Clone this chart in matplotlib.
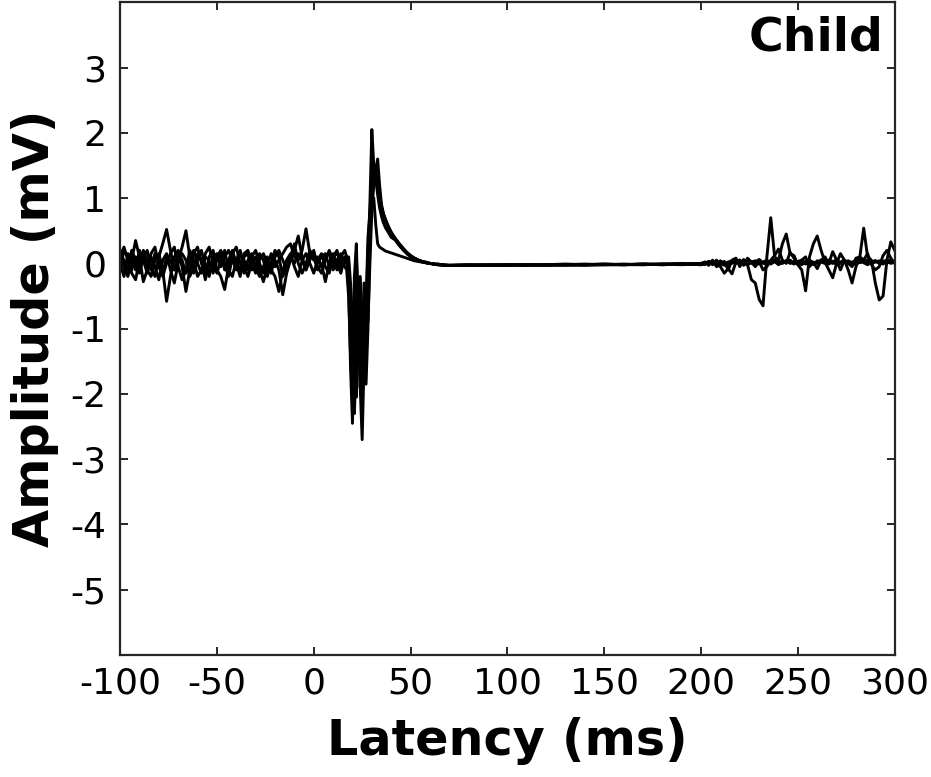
import numpy as np
import matplotlib
matplotlib.use('Agg')
import matplotlib.pyplot as plt

# sampling grid (ms): dense where the traces move, sparse on the flat part
t_pre = np.arange(-100, 17, 2)
t_mep = np.arange(17, 41, 1)
t_tail = np.arange(42, 71, 2)
t_flat = np.arange(80, 191, 10)
t_late = np.arange(200, 301, 2)
time = np.concatenate([t_pre, t_mep, t_tail, t_flat, t_late])

trace_a = [0.15, 0.05, -0.1, 0.2, 0.05, -0.15, 0.1, 0.2, -0.05, -0.2,
           0.1, 0.3, 0.52, 0.2, -0.1, 0.05, 0.25, 0.5, 0.1, -0.15,
           0.05, 0.2, -0.05, -0.2, 0.1, 0.15, -0.05, 0.1, 0.2, 0.05,
           -0.1, 0.15, 0.05, -0.1, 0.1, 0.2, 0.0, -0.15, 0.05, 0.1,
           -0.05, 0.05, 0.15, 0.25, 0.3, 0.1, 0.05, 0.2, 0.53, 0.15,
           0.05, 0.1, -0.05, 0.1, 0.15, -0.1, 0.05, 0.15, 0.0,
           0.1, -0.3, -1.6, -2.45, -1.2, 0.1, -0.6, -1.9, -1.4, -0.3,
           -0.9, -0.2, 0.9, 2.05, 1.5, 1.3, 1.05, 0.85, 0.72, 0.62,
           0.55, 0.5, 0.45, 0.4,
           0.36, 0.28, 0.21, 0.15, 0.1, 0.07, 0.04, 0.02, 0.01, 0.0,
           -0.01, -0.02, -0.02, -0.03, -0.03,
           -0.03, -0.03, -0.02, -0.03, -0.02, -0.02, -0.03, -0.02, -0.02, -0.01,
           -0.02, -0.01,
           0.0, 0.02, -0.03, 0.05, -0.05, -0.02, 0.03, -0.1, 0.05, 0.08,
           -0.05, 0.06, -0.02, -0.25, -0.3, -0.55, -0.65, 0.1, 0.7, 0.1,
           0.05, 0.3, 0.45, 0.15, 0.12, -0.02, -0.1, -0.42, 0.1, 0.3,
           0.42, 0.2, 0.02, -0.1, -0.22, 0.0, 0.15, 0.05, -0.1, -0.3,
           -0.05, 0.1, 0.54, 0.1, 0.05, -0.3, -0.56, -0.5, 0.05, 0.33,
           0.2]

trace_b = [-0.1, 0.2, 0.1, -0.15, -0.25, 0.05, 0.15, -0.1, -0.2, 0.05,
           0.15, -0.1, -0.58, -0.2, 0.1, 0.2, -0.05, -0.43, -0.1, 0.15,
           0.25, 0.0, -0.15, 0.1, 0.2, -0.1, -0.2, -0.4, -0.05, 0.15,
           0.25, 0.0, -0.15, 0.05, 0.15, -0.05, -0.2, -0.05, 0.1, -0.1,
           -0.2, -0.43, -0.1, 0.05, 0.15, -0.05, -0.2, 0.05, 0.15, 0.0,
           -0.15, 0.05, 0.15, -0.05, -0.15, 0.1, 0.2, -0.05, 0.05,
           0.05, 0.0, -0.8, -1.5, -0.2, 0.3, -0.8, -1.9, -2.7, -1.5,
           -0.4, -0.9, 0.0, 0.8, 1.2, 1.45, 1.6, 1.2, 0.9, 0.76,
           0.67, 0.6, 0.53, 0.47,
           0.38, 0.3, 0.23, 0.17, 0.12, 0.08, 0.05, 0.03, 0.01, 0.0,
           -0.01, -0.02, -0.02, -0.03, -0.03,
           -0.02, -0.03, -0.03, -0.02, -0.03, -0.02, -0.02, -0.01, -0.02, -0.02,
           -0.01, -0.01,
           -0.02, 0.0, 0.03, -0.02, 0.05, -0.05, -0.15, -0.08, -0.16, 0.02,
           0.05, -0.03, 0.08, 0.02, -0.05, 0.03, -0.1, -0.05, 0.05, 0.12,
           0.22, 0.05, 0.0, 0.17, 0.08, -0.02, 0.05, 0.1, -0.05, 0.02,
           -0.08, 0.05, 0.1, 0.0, 0.18, 0.05, -0.1, 0.05, 0.0, -0.05,
           0.08, 0.1, 0.05, 0.15, -0.02, -0.1, -0.05, 0.12, 0.2, 0.08,
           0.0]

trace_c = [0.2, -0.05, -0.2, 0.05, 0.35, 0.1, -0.28, -0.1, 0.15, 0.25,
           -0.05, -0.2, 0.0, 0.15, 0.25, -0.05, -0.25, -0.1, 0.2, 0.05,
           -0.2, -0.1, 0.15, 0.25, 0.0, -0.15, 0.05, 0.2, -0.1, -0.2,
           0.05, 0.2, -0.05, -0.2, 0.0, 0.1, -0.1, -0.28, -0.05, 0.15,
           0.05, -0.1, -0.48, -0.15, 0.05, 0.2, 0.42, 0.1, -0.1, 0.05,
           0.2, -0.05, -0.15, 0.05, 0.2, 0.05, -0.1, 0.1, 0.2,
           0.1, -0.2, -0.5, -1.2, -1.8, -2.05, -1.0, -0.2, -0.9, -1.6,
           -0.8, 0.2, 0.75, 0.95, 1.0, 0.6, 0.3, 0.25, 0.23, 0.21,
           0.19, 0.18, 0.17, 0.16,
           0.14, 0.12, 0.1, 0.08, 0.06, 0.04, 0.03, 0.02, 0.01, 0.0,
           -0.01, -0.01, -0.02, -0.02, -0.03,
           -0.03, -0.02, -0.02, -0.03, -0.02, -0.01, -0.02, -0.02, -0.01, -0.02,
           -0.01, 0.0,
           -0.02, 0.0, 0.02, -0.01, 0.03, 0.0, -0.03, 0.02, 0.04, 0.0,
           0.03, -0.02, 0.05, 0.0, 0.02, 0.06, 0.01, -0.02, 0.03, 0.05,
           0.02, 0.0, 0.04, 0.02, -0.01, 0.03, 0.05, 0.0, 0.02, -0.02,
           0.04, 0.02, 0.0, 0.05, 0.03, -0.02, 0.01, 0.04, 0.02, 0.0,
           0.03, 0.05, 0.01, -0.02, 0.02, 0.04, 0.0, 0.03, 0.05, 0.02,
           0.01]

trace_d = [0.0, -0.2, 0.15, 0.1, -0.1, 0.2, 0.05, -0.15, 0.1, -0.05,
           -0.25, 0.05, 0.15, -0.1, -0.3, 0.0, 0.15, 0.05, -0.2, -0.05,
           0.15, 0.05, -0.25, 0.0, -0.1, 0.1, 0.2, 0.0, -0.2, 0.1,
           0.0, -0.2, 0.1, 0.15, -0.1, -0.05, 0.15, 0.05, -0.2, 0.0,
           0.2, 0.1, -0.2, -0.05, 0.1, 0.3, 0.0, -0.15, 0.0, 0.2,
           0.1, -0.1, 0.0, -0.28, 0.0, 0.15, 0.0, -0.15, 0.1,
           0.0, 0.1, -0.3, -0.9, -1.4, -0.7, -0.3, -1.0, -1.5, -1.2,
           -1.85, -1.0, 0.3, 1.1, 1.4, 1.35, 1.15, 0.95, 0.82, 0.73,
           0.65, 0.58, 0.52, 0.46,
           0.37, 0.29, 0.22, 0.16, 0.11, 0.08, 0.05, 0.03, 0.02, 0.0,
           -0.01, -0.02, -0.03, -0.03, -0.03,
           -0.02, -0.03, -0.02, -0.02, -0.03, -0.02, -0.01, -0.02, -0.02, -0.01,
           -0.01, -0.02,
           -0.01, 0.02, 0.0, 0.04, -0.02, 0.03, 0.01, -0.03, 0.02, 0.05,
           0.0, 0.03, -0.02, 0.02, 0.04, -0.01, 0.02, 0.05, 0.0, 0.03,
           -0.02, 0.02, 0.04, 0.0, 0.03, 0.01, -0.02, 0.03, 0.05, 0.01,
           0.0, 0.04, 0.02, -0.01, 0.03, 0.05, 0.0, 0.02, 0.04, 0.01,
           -0.02, 0.03, 0.05, 0.0, 0.02, 0.04, 0.01, -0.01, 0.03, 0.05,
           0.02]

trace_e = [0.1, 0.25, 0.05, -0.1, 0.1, -0.05, 0.2, 0.05, -0.1, 0.15,
           0.05, -0.15, 0.1, 0.05, -0.1, 0.15, 0.05, -0.15, 0.05, 0.2,
           0.0, -0.15, 0.1, 0.05, -0.15, 0.05, 0.15, -0.1, 0.05, 0.2,
           0.0, -0.1, 0.15, 0.2, 0.0, -0.15, 0.05, 0.15, 0.0, -0.15,
           0.1, 0.2, 0.05, -0.1, 0.1, 0.0, 0.15, 0.05, -0.1, 0.1,
           0.15, 0.0, 0.1, 0.15, -0.05, 0.1, 0.15, 0.05, -0.05,
           -0.1, -0.5, -1.4, -2.0, -2.3, -1.3, -0.5, -1.2, -2.0, -1.7,
           -0.6, 0.4, 0.8, 1.2, 1.5, 1.45, 1.25, 1.05, 0.87, 0.76,
           0.68, 0.6, 0.54, 0.48,
           0.39, 0.31, 0.24, 0.17, 0.12, 0.08, 0.05, 0.03, 0.01, 0.0,
           -0.01, -0.01, -0.02, -0.03, -0.03,
           -0.03, -0.02, -0.03, -0.02, -0.02, -0.03, -0.02, -0.01, -0.02, -0.01,
           -0.02, -0.01,
           0.0, -0.02, 0.03, 0.01, 0.0, 0.04, -0.01, 0.02, 0.0, 0.03,
           0.05, 0.0, -0.02, 0.03, 0.01, 0.04, 0.0, 0.02, -0.01, 0.03,
           0.04, 0.01, 0.02, 0.05, 0.0, 0.02, 0.04, -0.01, 0.03, 0.0,
           0.02, 0.05, 0.01, 0.03, 0.0, 0.04, 0.02, 0.05, 0.0, 0.02,
           0.04, 0.01, 0.03, 0.05, 0.0, 0.02, 0.04, 0.01, 0.03, 0.0,
           0.02]

traces = [trace_a, trace_b, trace_c, trace_d, trace_e]

x_ticks = [-100, -50, 0, 50, 100, 150, 200, 250, 300]
y_ticks = [-5, -4, -3, -2, -1, 0, 1, 2, 3]

plt.rcParams['font.family'] = 'DejaVu Sans'
plt.rcParams['axes.unicode_minus'] = False

fig = plt.figure(figsize=(9.31, 7.77), dpi=100)
ax = fig.add_axes([0.129, 0.157, 0.832, 0.840])

for tr in traces:
    ax.plot(time, tr, color='black', linewidth=2.1)

ax.set_xlim(-100, 300)
ax.set_ylim(-6, 4)
ax.set_xticks(x_ticks)
ax.set_yticks(y_ticks)
ax.tick_params(direction='in', length=6, width=1.4, colors='#262626',
               labelsize=26, labelcolor='black', top=True, right=True, pad=8)
ax.tick_params(axis='y', pad=10)
for sp in ax.spines.values():
    sp.set_linewidth(1.6)
    sp.set_color('#262626')

ax.set_xlabel('Latency (ms)', fontsize=35.5, fontweight='bold', labelpad=12)
ax.set_ylabel('Amplitude (mV)', fontsize=35.5, fontweight='bold', labelpad=8)
ax.text(0.985, 0.98, 'Child', transform=ax.transAxes, ha='right', va='top',
        fontsize=34, fontweight='bold')

fig.savefig('out.png', dpi=100)
